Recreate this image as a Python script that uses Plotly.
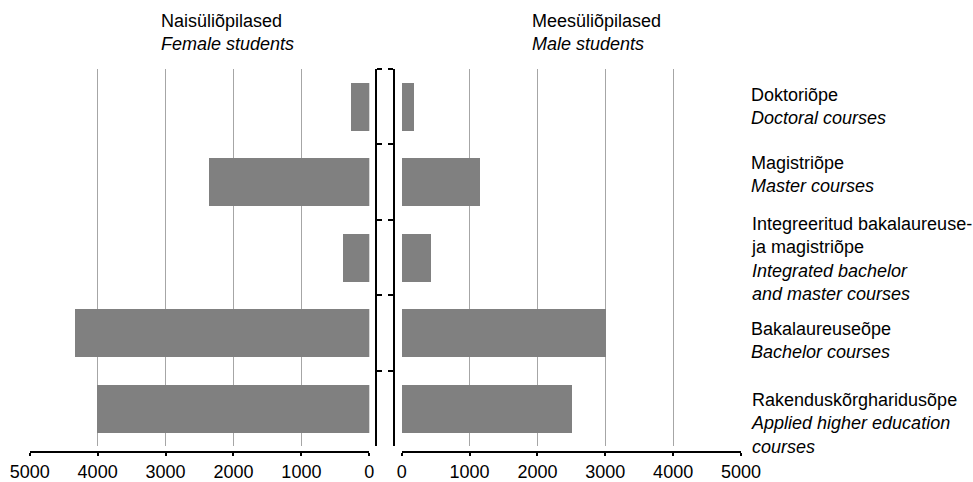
import plotly.graph_objects as go

# ---- data ----
categories = ["Doktoriõpe", "Magistriõpe", "Integreeritud", "Bakalaureuseõpe", "Rakenduskõrgharidusõpe"]
female_students = [270, 2360, 390, 4335, 4010]
male_students = [180, 1150, 430, 3000, 2500]
category_labels = [
    "Doktoriõpe<br><i>Doctoral courses</i>",
    "Magistriõpe<br><i>Master courses</i>",
    "Integreeritud bakalaureuse-<br>ja magistriõpe<br><i>Integrated bachelor</i><br><i>and master courses</i>",
    "Bakalaureuseõpe<br><i>Bachelor courses</i>",
    "Rakenduskõrgharidusõpe<br><i>Applied higher education</i><br><i>courses</i>",
]
female_title = "Naisüliõpilased<br><i>Female students</i>"
male_title = "Meesüliõpilased<br><i>Male students</i>"
x_ticks = [0, 1000, 2000, 3000, 4000, 5000]

W, H = 973, 482
FONT = "Liberation Sans, Arial, sans-serif"
BAR = "#808080"
GRID = "#a6a6a6"

def px_x(p):
    return p / W

def px_y(p):
    return 1 - p / H

fig = go.Figure()
fig.add_trace(go.Bar(y=categories, x=female_students, orientation="h",
                     marker=dict(color=BAR, line=dict(width=0)), width=0.63,
                     xaxis="x", yaxis="y", showlegend=False))
fig.add_trace(go.Bar(y=categories, x=male_students, orientation="h",
                     marker=dict(color=BAR, line=dict(width=0)), width=0.63,
                     xaxis="x2", yaxis="y2", showlegend=False))

ydom = [px_y(446), px_y(68.5)]
xcommon = dict(tickvals=x_ticks, ticktext=[str(v) for v in x_ticks],
               showgrid=True, gridcolor=GRID, gridwidth=1, zeroline=False,
               showline=True, linecolor="black", linewidth=2,
               ticks="outside", ticklen=3, tickwidth=2, tickcolor="black",
               tickfont=dict(size=18, color="black", family=FONT),
               anchor="free", position=px_y(452), fixedrange=True,
               automargin=False)
ycommon = dict(type="category", categoryorder="array", categoryarray=categories,
               range=[4.5, -0.5], domain=ydom, showgrid=False, zeroline=False,
               showline=True, linecolor="black", linewidth=2,
               ticks="outside", ticklen=5, tickwidth=2, tickcolor="black",
               tickson="boundaries", showticklabels=False, anchor="free",
               fixedrange=True, automargin=False)

fig.update_layout(
    template="none",
    width=W, height=H,
    margin=dict(l=0, r=0, t=0, b=0, autoexpand=False),
    paper_bgcolor="white", plot_bgcolor="white",
    font=dict(family=FONT, size=18, color="black"),
    bargap=0,
    xaxis=dict(domain=[px_x(29.7), px_x(369.3)], range=[5000, 0], **xcommon),
    xaxis2=dict(domain=[px_x(401.7), px_x(741)], range=[0, 5000], **xcommon),
    yaxis=dict(side="right", position=px_x(376.3), **ycommon),
    yaxis2=dict(side="left", position=px_x(394.3), matches="y", **ycommon),
)

annotations = [
    dict(text=female_title, x=px_x(159), y=px_y(32.5), xref="paper", yref="paper",
         xanchor="left", yanchor="middle", align="left", showarrow=False,
         font=dict(size=18, family=FONT, color="black")),
    dict(text=male_title, x=px_x(530), y=px_y(32.5), xref="paper", yref="paper",
         xanchor="left", yanchor="middle", align="left", showarrow=False,
         font=dict(size=18, family=FONT, color="black")),
]
shifts = [0, 7, -2, -8, -15]
for cat, lab, s in zip(categories, category_labels, shifts):
    annotations.append(dict(text=lab, x=px_x(748.5), y=cat, xref="paper", yref="y2",
                            xanchor="left", yanchor="middle", align="left",
                            yshift=s, showarrow=False,
                            font=dict(size=18, family=FONT, color="black")))
fig.update_layout(annotations=annotations)

fig.write_html(
    "out.html",
    config={"displayModeBar": False},
    post_script="document.body.style.margin='0';document.body.style.overflow='hidden';",
)
